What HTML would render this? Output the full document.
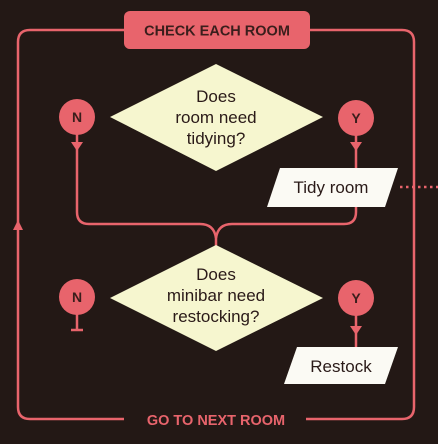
<!DOCTYPE html>
<html><head><style>
html,body{margin:0;padding:0;background:#231815;}
svg{display:block}
text{font-family:"Liberation Sans",sans-serif;}
</style></head><body>
<svg width="438" height="444" viewBox="0 0 438 444" xmlns="http://www.w3.org/2000/svg">
<rect width="438" height="444" fill="#231815"/>
<g fill="none" stroke="#e8646c" stroke-width="2.5">
<path d="M124 30 H30 Q18 30 18 42 V407 Q18 419 30 419 H124"/>
<path d="M310 30 H402 Q414 30 414 42 V407 Q414 419 402 419 H306"/>
<path d="M77 130 V212 Q77 224 89 224 H200 Q214 224 216 238 Q218 224 232 224 H344 Q356 224 356 212 V200"/>
<path d="M216 236 V246"/>
<path d="M356 130 V170"/>
<path d="M77 310 V330 M71 330 H83"/>
<path d="M356 310 V350"/>
</g>
<path d="M18 220 L13 230 L23 230Z" fill="#e8646c"/>
<path d="M71 142 L83 142 L77 151Z" fill="#e8646c"/>
<path d="M350 142 L362 142 L356 151Z" fill="#e8646c"/>
<path d="M350 326 L362 326 L356 335Z" fill="#e8646c"/>
<rect x="124" y="11" width="186" height="38" rx="6" fill="#e8646c"/>
<text x="217" y="35.5" text-anchor="middle" font-size="14.5" font-weight="bold" fill="#3a1e1c">CHECK EACH ROOM</text>
<text x="216" y="425" text-anchor="middle" font-size="14.5" font-weight="bold" fill="#e8646c">GO TO NEXT ROOM</text>
<polygon points="110,117 216,64 323,117 216,171" fill="#f6f6cf"/>
<text text-anchor="middle" font-size="17" fill="#2a1a18"><tspan x="216" y="102">Does</tspan><tspan x="216" y="123">room need</tspan><tspan x="216" y="144">tidying?</tspan></text>
<polygon points="110,298 216,245 323,298 216,351" fill="#f6f6cf"/>
<text text-anchor="middle" font-size="17" fill="#2a1a18"><tspan x="216" y="280">Does</tspan><tspan x="216" y="301">minibar need</tspan><tspan x="216" y="322">restocking?</tspan></text>
<g fill="#e8646c"><circle cx="77" cy="117" r="18"/><circle cx="356" cy="118" r="18"/><circle cx="77" cy="297" r="18"/><circle cx="356" cy="298" r="18"/></g>
<g font-size="14" font-weight="bold" fill="#3a1e1c" text-anchor="middle">
<text x="77" y="122">N</text><text x="356" y="123">Y</text><text x="77" y="302">N</text><text x="356" y="303">Y</text></g>
<polygon points="280,168 398,168 385,207 267,207" fill="#fbfaf4"/>
<text x="331" y="193" text-anchor="middle" font-size="17" fill="#2a1a18">Tidy room</text>
<polygon points="297,347 398,347 385,384 284,384" fill="#fbfaf4"/>
<text x="341" y="372" text-anchor="middle" font-size="17" fill="#2a1a18">Restock</text>
<line x1="400" y1="187" x2="438" y2="187" stroke="#e8646c" stroke-width="2.5" stroke-dasharray="2.5 3.5"/>
</svg>
</body></html>
